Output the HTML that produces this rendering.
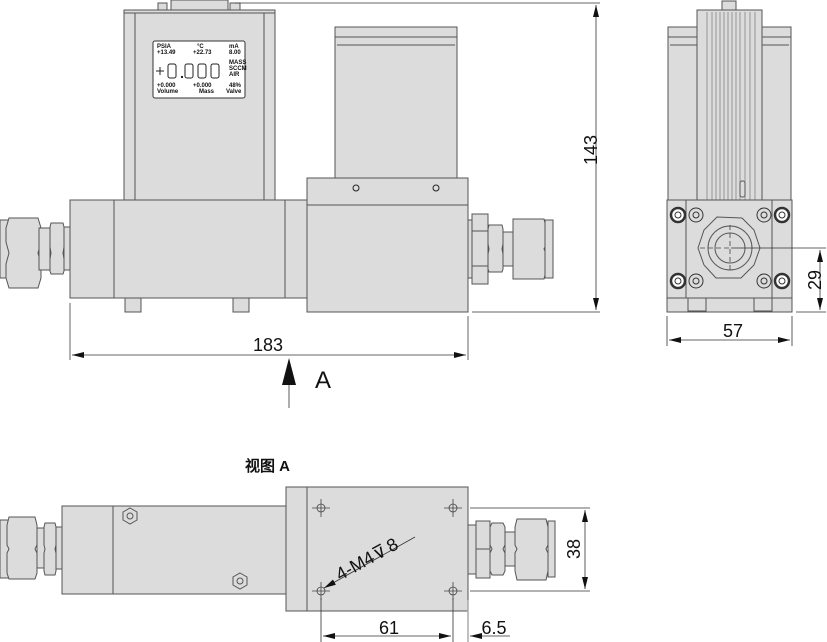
<!DOCTYPE html>
<html><head><meta charset="utf-8"><style>
html,body{margin:0;padding:0;background:#fff;width:827px;height:642px;overflow:hidden}
svg{display:block}
text{font-family:"Liberation Sans","DejaVu Sans",sans-serif}
</style></head><body>
<svg width="827" height="642" viewBox="0 0 827 642" xmlns="http://www.w3.org/2000/svg">
<defs>
<marker id="ae" viewBox="0 0 12 6" refX="12" refY="3" markerWidth="12" markerHeight="6" orient="auto" markerUnits="userSpaceOnUse"><path d="M0,0L12,3L0,6z" fill="#111"/></marker>
<marker id="as" viewBox="0 0 12 6" refX="0" refY="3" markerWidth="12" markerHeight="6" orient="auto" markerUnits="userSpaceOnUse"><path d="M12,0L0,3L12,6z" fill="#111"/></marker>
</defs>
<g fill="#dcdcdc" stroke="#555" stroke-width="1">
<!-- FRONT VIEW -->
<!-- top connector -->
<rect x="158" y="3" width="9" height="8"/><rect x="230" y="3" width="10" height="8"/>
<rect x="171" y="0" width="57" height="11"/>
<rect x="124" y="10" width="151" height="190"/>
<line x1="135" y1="13" x2="135" y2="200"/><line x1="264" y1="13" x2="264" y2="200"/>
<line x1="124" y1="13" x2="275" y2="13"/>
<rect x="153" y="41" width="92" height="57" rx="2" fill="#fff" stroke="#333"/>
<!-- base -->
<rect x="70" y="200" width="237" height="98"/>
<line x1="114" y1="200" x2="114" y2="298"/><line x1="285" y1="200" x2="285" y2="298"/>
<rect x="125" y="298" width="16" height="14"/><rect x="233" y="298" width="16" height="14"/>
<!-- valve -->
<rect x="335" y="27" width="122" height="151"/>
<line x1="335" y1="37" x2="457" y2="37"/><line x1="337" y1="45" x2="455" y2="45"/>
<rect x="307" y="178" width="161" height="134"/>
<line x1="307" y1="205" x2="468" y2="205"/>
<circle cx="356" cy="188" r="3" fill="none" stroke="#222"/><circle cx="436" cy="188" r="3" fill="none" stroke="#222"/>
<!-- left fitting -->
<rect x="0" y="220" width="9" height="58"/>
<path d="M9,218h29l3,10v14l-3,11l3,11v14l-3,10h-29l-3,-10v-14l3,-11l-3,-11v-14z"/>
<rect x="39" y="228" width="11" height="42"/>
<path d="M51,223h12l1,4v20l-1,6l1,6v12l-1,3h-12l-1,-3v-12l1,-6l-1,-6v-20z"/>
<rect x="64" y="227" width="6" height="43"/>
<!-- right fitting -->
<rect x="468" y="220" width="5" height="58"/>
<rect x="472" y="214" width="16" height="70"/>
<line x1="472" y1="231" x2="488" y2="231"/><line x1="472" y1="266" x2="488" y2="266"/>
<path d="M489,225h13l1,4v15l-1,5l1,5v15l-1,3h-13l-1,-3v-15l1,-5l-1,-5v-15z"/>
<rect x="503" y="232" width="10" height="34"/>
<path d="M513,219h31l2,8v18l-2,4l2,4v18l-2,8h-31v-60z"/>
<rect x="545" y="220" width="8" height="58"/>
<!-- SIDE VIEW -->
<rect x="668" y="27" width="123" height="173"/>
<line x1="668" y1="37" x2="791" y2="37"/><line x1="670" y1="45" x2="789" y2="45"/>
<rect x="722" y="1" width="14" height="10"/>
<rect x="697" y="10" width="65" height="190"/>
<g stroke="#777" stroke-width="0.7">
<line x1="707" y1="12" x2="707" y2="200"/><line x1="712" y1="12" x2="712" y2="200"/><line x1="716" y1="12" x2="716" y2="200"/>
<line x1="720" y1="12" x2="720" y2="200"/><line x1="724" y1="12" x2="724" y2="200"/><line x1="728" y1="12" x2="728" y2="200"/>
<line x1="732" y1="12" x2="732" y2="200"/><line x1="736" y1="12" x2="736" y2="200"/><line x1="740" y1="12" x2="740" y2="200"/>
<line x1="745" y1="12" x2="745" y2="200"/><line x1="750" y1="12" x2="750" y2="200"/><line x1="755" y1="12" x2="755" y2="200"/>
</g>
<rect x="740" y="181" width="5" height="16" rx="2"/>
<rect x="667" y="200" width="125" height="112"/>
<line x1="686" y1="200" x2="686" y2="298"/><line x1="772" y1="200" x2="772" y2="298"/>
<line x1="667" y1="298" x2="792" y2="298"/>
<rect x="688" y="298" width="18" height="13"/><rect x="754" y="298" width="18" height="13"/>
<path d="M717,217l25,1l12,12l6,18l-6,17l-13,13l-25,0l-12,-13l-6,-17l6,-18z"/>
<circle cx="730" cy="248" r="22"/><circle cx="730" cy="248" r="15"/>
<g fill="#fff" stroke="#333">
<circle cx="678" cy="215" r="7" stroke-width="2.5"/><circle cx="678" cy="215" r="3"/>
<circle cx="782" cy="215" r="7" stroke-width="2.5"/><circle cx="782" cy="215" r="3"/>
<circle cx="678" cy="281" r="7" stroke-width="2.5"/><circle cx="678" cy="281" r="3"/>
<circle cx="782" cy="281" r="7" stroke-width="2.5"/><circle cx="782" cy="281" r="3"/>
<circle cx="696" cy="215" r="7" fill="none"/><circle cx="696" cy="215" r="3" fill="none"/>
<circle cx="764" cy="215" r="7" fill="none"/><circle cx="764" cy="215" r="3" fill="none"/>
<circle cx="696" cy="281" r="7" fill="none"/><circle cx="696" cy="281" r="3" fill="none"/>
<circle cx="764" cy="281" r="7" fill="none"/><circle cx="764" cy="281" r="3" fill="none"/>
</g>
<!-- VIEW A -->
<rect x="0" y="520" width="9" height="58"/>
<path d="M9,517h26l2,8v20l-2,4l2,4v20l-2,6h-26l-2,-6v-20l2,-4l-2,-4v-20z"/>
<rect x="37" y="528" width="8" height="40"/>
<path d="M45,523h10l1,4v18l-1,4l1,4v18l-1,4h-10l-1,-4v-18l1,-4l-1,-4v-18z"/>
<rect x="56" y="527" width="6" height="42"/>
<rect x="62" y="506" width="225" height="88"/>
<line x1="113" y1="506" x2="113" y2="594"/>
<path d="M130,508l7,4v8l-7,4l-7,-4v-8z"/><circle cx="130" cy="516" r="3" fill="none"/>
<path d="M240,573l7,4v8l-7,4l-7,-4v-8z"/><circle cx="240" cy="581" r="3" fill="none"/>
<rect x="286" y="487" width="182" height="124"/>
<line x1="307" y1="487" x2="307" y2="611"/>
<rect x="468" y="525" width="9" height="49"/>
<rect x="476" y="521" width="14" height="57"/>
<line x1="476" y1="549" x2="490" y2="549"/>
<path d="M492,523h11l2,4v18l-2,4l2,4v18l-2,4h-11l-2,-4v-18l2,-4l-2,-4v-18z"/>
<rect x="505" y="532" width="12" height="34"/>
<path d="M517,519h29l2,8v18l-2,4l2,4v18l-2,9h-29l-2,-9v-18l2,-4l-2,-4v-18z"/>
<rect x="548" y="521" width="7" height="56"/>
</g>
<!-- holes with crosshair -->
<g stroke="#444" fill="none" stroke-width="0.8">
<circle cx="321" cy="508" r="4"/><path d="M312,508h18M321,499v18"/>
<circle cx="453" cy="508" r="4"/><path d="M444,508h18M453,499v18"/>
<circle cx="321" cy="591" r="4"/><path d="M312,591h18M321,582v18"/>
<circle cx="453" cy="591" r="4"/><path d="M444,591h18M453,582v18"/>
<!-- side view centerlines -->
<path d="M700,248h30M730,225v46" stroke-dasharray="5,3"/>
</g>
<!-- LCD text -->
<g font-family="Liberation Mono,monospace" font-size="6" font-weight="bold" fill="#111">
<text x="157" y="48">PSIA</text><text x="197" y="48">°C</text><text x="229" y="48">mA</text>
<text x="157" y="54">+13.49</text><text x="193" y="54">+22.73</text><text x="229" y="54">8.00</text>
<text x="229" y="64">MASS</text><text x="229" y="70">SCCM</text><text x="229" y="76">AIR</text>
<text x="157" y="87">+0.000</text><text x="193" y="87">+0.000</text><text x="229" y="87">48%</text>
<text x="157" y="93">Volume</text><text x="199" y="93">Mass</text><text x="226" y="93">Valve</text>
</g>
<g fill="none" stroke="#222" stroke-width="1">
<path d="M156,71h8M160,67v8"/>
<rect x="168" y="64" width="8" height="14" rx="2"/>
<rect x="185" y="64" width="8" height="14" rx="2"/>
<rect x="198" y="64" width="8" height="14" rx="2"/>
<rect x="211" y="64" width="8" height="14" rx="2"/>
</g>
<rect x="181" y="76" width="2" height="2" fill="#222"/>
<!-- DIMENSIONS -->
<g stroke="#333" stroke-width="0.8" fill="none">
<path d="M235,3H600M472,312H600"/>
<line x1="596" y1="5" x2="596" y2="310" marker-start="url(#as)" marker-end="url(#ae)"/>
<path d="M70,303V360M468,316V360" stroke="#999" stroke-width="1.5"/>
<line x1="72" y1="355" x2="466" y2="355" marker-start="url(#as)" marker-end="url(#ae)"/>
<line x1="289" y1="383" x2="289" y2="408"/>
<path d="M731,248H826M796,312H826M667,316V346M792,316V346"/>
<line x1="820" y1="250" x2="820" y2="310" marker-start="url(#as)" marker-end="url(#ae)"/>
<line x1="669" y1="340" x2="790" y2="340" marker-start="url(#as)" marker-end="url(#ae)"/>
<path d="M470,508H590M470,591H590"/>
<line x1="585" y1="510" x2="585" y2="589" marker-start="url(#as)" marker-end="url(#ae)"/>
<path d="M321,598V642M453,598V642"/>
<path d="M468,600V642" stroke="#aaa" stroke-width="1.5"/>
<line x1="323" y1="636" x2="451" y2="636" marker-start="url(#as)" marker-end="url(#ae)"/>
<line x1="510" y1="636" x2="470" y2="636" marker-end="url(#ae)"/>
<line x1="415" y1="537" x2="324" y2="588" marker-end="url(#ae)"/>
</g>
<path d="M289,358L282,385H296Z" fill="#111"/>
<g fill="#111" font-size="18">
<text transform="translate(597,150) rotate(-90)" text-anchor="middle">143</text>
<text x="268" y="351" text-anchor="middle">183</text>
<text x="733" y="337" text-anchor="middle">57</text>
<text transform="translate(821,280) rotate(-90)" text-anchor="middle">29</text>
<text transform="translate(580,549) rotate(-90)" text-anchor="middle">38</text>
<text x="389" y="634" text-anchor="middle">61</text>
<text x="494" y="634" text-anchor="middle">6.5</text>
<text transform="translate(340,581) rotate(-29)">4-M4<tspan dx="1">⊽</tspan><tspan dx="3">8</tspan></text>
</g>
<text x="315" y="388" font-family="Liberation Serif,serif" font-size="24" fill="#111">A</text>
<text x="245" y="471" font-family="'Liberation Sans','Noto Sans CJK SC',sans-serif" font-size="15" font-weight="bold" fill="#111">视图 A</text>
</svg>
</body></html>
